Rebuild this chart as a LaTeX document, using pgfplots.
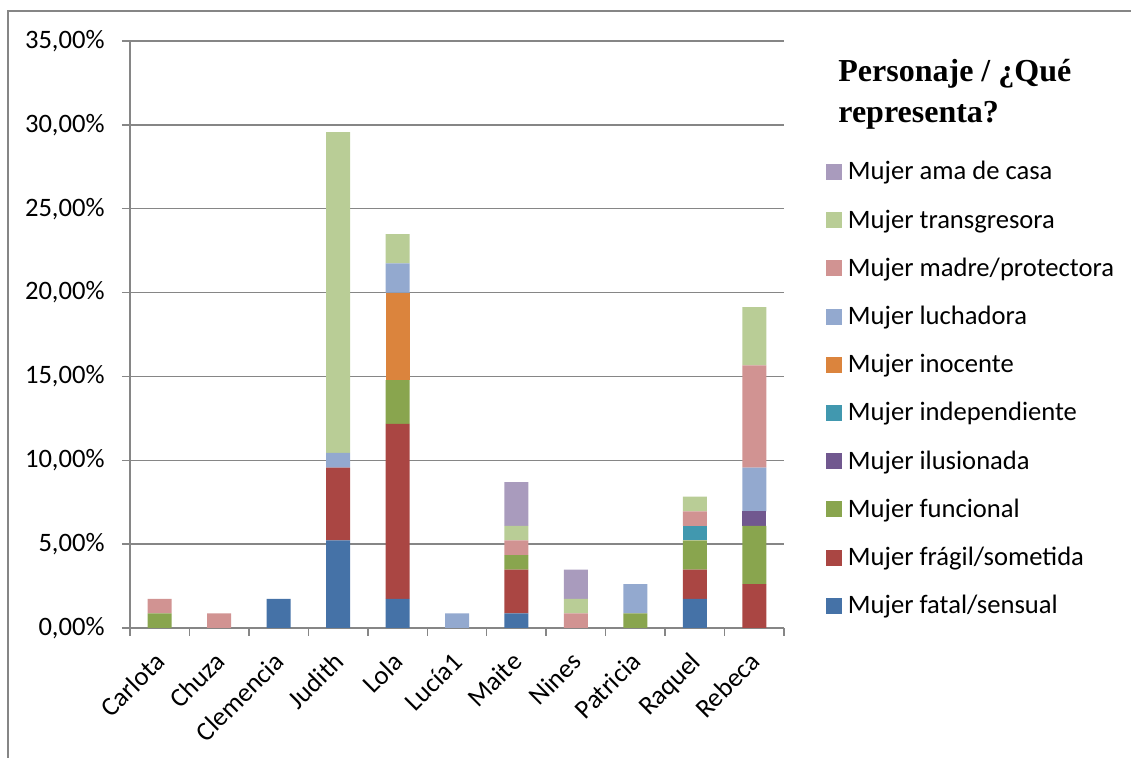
\documentclass[border=0pt]{standalone}
\usepackage{fontspec}
\setmainfont{Carlito}
\newfontfamily\titlefont{Liberation Serif}
\usepackage{pgfplots}
\pgfplotsset{compat=1.18}

\definecolor{cFatal}{HTML}{4572A7}
\definecolor{cFragil}{HTML}{AA4643}
\definecolor{cFuncional}{HTML}{89A54E}
\definecolor{cIlusionada}{HTML}{71588F}
\definecolor{cIndep}{HTML}{4198AF}
\definecolor{cInocente}{HTML}{DB843D}
\definecolor{cLuchadora}{HTML}{93A9CF}
\definecolor{cMadre}{HTML}{D19392}
\definecolor{cTransg}{HTML}{B9CD96}
\definecolor{cAmaCasa}{HTML}{A99BBD}
\definecolor{gridgray}{HTML}{868686}

\begin{document}
\begin{tikzpicture}
  % 1 px of the reference = 0.5pt
  \path[use as bounding box] (0,0) rectangle (565.5pt,379pt);
  \draw[gridgray, line width=0.6pt] (4pt,0) -- (4pt,373.5pt) -- (565.5pt,373.5pt);

  \begin{axis}[
      at={(65pt,65pt)}, anchor=south west,
      scale only axis, width=327pt, height=293.5pt,
      ybar stacked, bar width=12pt,
      xmin=-0.5, xmax=10.5, ymin=0, ymax=35,
      axis lines=left,
      axis line style={-, draw=gridgray, line width=0.75pt},
      tick style={draw=gridgray, line width=0.75pt},
      tick align=outside, major tick length=4pt,
      ymajorgrids, major grid style={draw=gridgray, line width=0.75pt},
      ytick={0,5,...,35},
      yticklabels={{0,00\%},{5,00\%},{10,00\%},{15,00\%},{20,00\%},{25,00\%},{30,00\%},{35,00\%}},
      xtick={-0.5,0.5,...,10.5},
      x tick label as interval,
      xticklabels={Carlota,Chuza,Clemencia,Judith,Lola,Lucía1,Maite,Nines,Patricia,Raquel,Rebeca},
      ticklabel style={font=\fontsize{13.3}{16}\selectfont},
      yticklabel style={anchor=east, inner sep=0pt, xshift=-8.5pt},
      xticklabel style={rotate=45, anchor=north east, inner sep=0pt, xshift=-7.1pt, yshift=-2.9pt},
      every axis plot post/.append style={draw=none,
        legend image code/.code={\fill[##1] (0pt,0pt) rectangle (8pt,8pt);}},
      reverse legend,
      legend cell align=left,
      legend style={at={(1.0642,0.7939)}, anchor=north west, draw=none,
        inner sep=0pt, outer sep=0pt, column sep=3pt, row sep=12.1pt,
        font=\fontsize{13.3}{16}\selectfont,
        nodes={inner sep=0pt, text height=9pt, text depth=3pt},
        cells={anchor=base west}},
    ]
    % values in %, one unit = 100/115
    \addplot[fill=cFatal] coordinates {(0,0) (1,0) (2,1.7391) (3,5.2174) (4,1.7391) (5,0) (6,0.8696) (7,0) (8,0) (9,1.7391) (10,0)};
    \addlegendentry{Mujer fatal/sensual}
    \addplot[fill=cFragil] coordinates {(0,0) (1,0) (2,0) (3,4.3478) (4,10.4348) (5,0) (6,2.6087) (7,0) (8,0) (9,1.7391) (10,2.6087)};
    \addlegendentry{Mujer frágil/sometida}
    \addplot[fill=cFuncional] coordinates {(0,0.8696) (1,0) (2,0) (3,0) (4,2.6087) (5,0) (6,0.8696) (7,0) (8,0.8696) (9,1.7391) (10,3.4783)};
    \addlegendentry{Mujer funcional}
    \addplot[fill=cIlusionada] coordinates {(0,0) (1,0) (2,0) (3,0) (4,0) (5,0) (6,0) (7,0) (8,0) (9,0) (10,0.8696)};
    \addlegendentry{Mujer ilusionada}
    \addplot[fill=cIndep] coordinates {(0,0) (1,0) (2,0) (3,0) (4,0) (5,0) (6,0) (7,0) (8,0) (9,0.8696) (10,0)};
    \addlegendentry{Mujer independiente}
    \addplot[fill=cInocente] coordinates {(0,0) (1,0) (2,0) (3,0) (4,5.2174) (5,0) (6,0) (7,0) (8,0) (9,0) (10,0)};
    \addlegendentry{Mujer inocente}
    \addplot[fill=cLuchadora] coordinates {(0,0) (1,0) (2,0) (3,0.8696) (4,1.7391) (5,0.8696) (6,0) (7,0) (8,1.7391) (9,0) (10,2.6087)};
    \addlegendentry{Mujer luchadora}
    \addplot[fill=cMadre] coordinates {(0,0.8696) (1,0.8696) (2,0) (3,0) (4,0) (5,0) (6,0.8696) (7,0.8696) (8,0) (9,0.8696) (10,6.0870)};
    \addlegendentry{Mujer madre/protectora}
    \addplot[fill=cTransg] coordinates {(0,0) (1,0) (2,0) (3,19.1304) (4,1.7391) (5,0) (6,0.8696) (7,0.8696) (8,0) (9,0.8696) (10,3.4783)};
    \addlegendentry{Mujer transgresora}
    \addplot[fill=cAmaCasa] coordinates {(0,0) (1,0) (2,0) (3,0) (4,0) (5,0) (6,2.6087) (7,1.7391) (8,0) (9,0) (10,0)};
    \addlegendentry{Mujer ama de casa}
  \end{axis}

  % anchor base = baseline of the last line
  \node[anchor=base west, align=left, inner sep=0pt,
        font=\titlefont\bfseries\fontsize{16}{20.5}\selectfont]
    at (419pt,317.5pt) {Personaje / ¿Qué\\representa?};
\end{tikzpicture}
\end{document}
